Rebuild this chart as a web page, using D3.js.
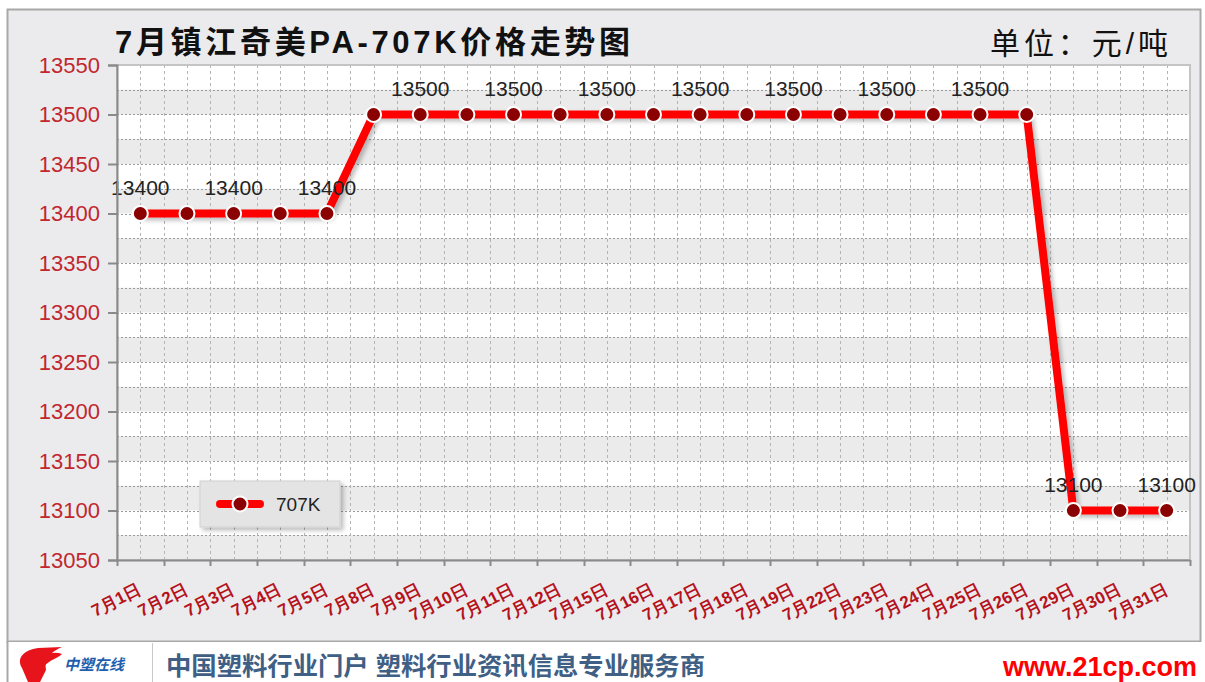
<!DOCTYPE html>
<html>
<head>
<meta charset="utf-8">
<script src="https://cdn.jsdelivr.net/npm/d3@7"></script>
<style>
  body { margin: 0; background: #fff; }
  svg { display: block; }
</style>
</head>
<body>
<script>
// data
const dates = ['7月1日', '7月2日', '7月3日', '7月4日', '7月5日', '7月8日', '7月9日', '7月10日',
  '7月11日', '7月12日', '7月15日', '7月16日', '7月17日', '7月18日', '7月19日', '7月22日',
  '7月23日', '7月24日', '7月25日', '7月26日', '7月29日', '7月30日', '7月31日']
const prices = [13400, 13400, 13400, 13400, 13400, 13500, 13500, 13500,
  13500, 13500, 13500, 13500, 13500, 13500, 13500, 13500,
  13500, 13500, 13500, 13500, 13100, 13100, 13100]
const yTicks = [13050, 13100, 13150, 13200, 13250, 13300, 13350, 13400, 13450, 13500, 13550]
const seriesName = '707K'

const w = 1205
const h = 682
const font = 'Arial, "Liberation Sans", "Noto Sans CJK SC", sans-serif'

const svg = d3.select('body').append('svg')
  .attr('width', w)
  .attr('height', h)
  .style('font-family', font)

const defs = svg.append('defs')
const shadow = defs.append('filter').attr('id', 'shadow')
  .attr('x', '-20%').attr('y', '-20%').attr('width', '140%').attr('height', '140%')
shadow.append('feDropShadow')
  .attr('dx', 3).attr('dy', 3).attr('stdDeviation', 2)
  .attr('flood-color', '#000').attr('flood-opacity', 0.25)

// outer panel
svg.append('rect')
  .attr('x', 7.5).attr('y', 9.5)
  .attr('width', 1193).attr('height', 632)
  .attr('fill', '#ebebed')
  .attr('stroke', '#a8a8a8')
  .attr('stroke-width', 2)

// footer
svg.append('rect')
  .attr('x', 7).attr('y', 642).attr('width', 1198).attr('height', 40)
  .attr('fill', '#fff')
svg.append('line')
  .attr('x1', 7.5).attr('x2', 7.5).attr('y1', 641).attr('y2', h)
  .attr('stroke', '#a8a8a8').attr('stroke-width', 2)
svg.append('line')
  .attr('x1', 152.5).attr('x2', 152.5).attr('y1', 643).attr('y2', h)
  .attr('stroke', '#c8c8c8').attr('stroke-width', 1)

// logo (approximate)
const logo = svg.append('g')
logo.append('path')
  .attr('d', 'M22,668 C16,658 24,650 38,648 L62,647 C50,652 44,660 46,670 L40,682 L28,682 Z')
  .attr('fill', '#e8141b')
logo.append('path')
  .attr('d', 'M34,662 C42,654 54,651 62,654 C58,658 50,660 44,666 Z')
  .attr('fill', '#e8141b')
logo.append('text')
  .attr('x', 64).attr('y', 670)
  .attr('font-size', 15).attr('font-weight', 'bold').attr('font-style', 'italic')
  .attr('fill', '#1f5fae')
  .text('中塑在线')

svg.append('text')
  .attr('x', 166).attr('y', 675)
  .attr('font-size', 25).attr('font-weight', 'bold')
  .attr('fill', '#3f5f84')
  .attr('textLength', 539)
  .attr('lengthAdjust', 'spacingAndGlyphs')
  .text('中国塑料行业门户 塑料行业资讯信息专业服务商')

svg.append('text')
  .attr('x', 1197).attr('y', 676)
  .attr('text-anchor', 'end')
  .attr('font-size', 27).attr('font-weight', 'bold')
  .attr('fill', '#ff0000')
  .text('www.21cp.com')

// title
svg.append('text')
  .attr('x', 115).attr('y', 53)
  .attr('font-size', 31).attr('font-weight', 'bold')
  .attr('fill', '#111')
  .attr('textLength', 515)
  .attr('lengthAdjust', 'spacing')
  .text('7月镇江奇美PA-707K价格走势图')

svg.append('text')
  .attr('x', 990).attr('y', 54)
  .attr('font-size', 30)
  .attr('fill', '#111')
  .attr('textLength', 178)
  .attr('lengthAdjust', 'spacing')
  .text('单位：元/吨')

// plot area
const m = { left: 117, right: 1190, top: 65, bottom: 560 }

const x = d3.scaleBand()
  .domain(dates)
  .range([m.left, m.right])

const y = d3.scaleLinear()
  .domain([13050, 13550])
  .range([m.bottom, m.top])

const plot = svg.append('g')

plot.append('rect')
  .attr('x', m.left).attr('y', m.top)
  .attr('width', m.right - m.left).attr('height', m.bottom - m.top)
  .attr('fill', '#fff')

// alternating bands every 25
const bands = d3.range(13050, 13550, 50)
plot.selectAll('.band')
  .data(bands)
  .enter().append('rect')
  .attr('class', 'band')
  .attr('x', m.left)
  .attr('width', m.right - m.left)
  .attr('y', d => y(d + 25))
  .attr('height', d => y(d) - y(d + 25))
  .attr('fill', '#ebebeb')

// horizontal grid lines every 25
const hGrid = d3.range(13075, 13550, 25)
plot.selectAll('.hgrid')
  .data(hGrid)
  .enter().append('line')
  .attr('class', 'hgrid')
  .attr('x1', m.left).attr('x2', m.right)
  .attr('y1', d => Math.round(y(d)) + 0.5)
  .attr('y2', d => Math.round(y(d)) + 0.5)
  .attr('stroke', '#9a9a9a')
  .attr('stroke-dasharray', '2,2')

// vertical grid lines at category centres and boundaries
const vGrid = []
dates.forEach((d, i) => {
  vGrid.push(x(d) + x.bandwidth() / 2)
  if (i > 0) vGrid.push(x(d))
})
plot.selectAll('.vgrid')
  .data(vGrid)
  .enter().append('line')
  .attr('class', 'vgrid')
  .attr('x1', d => Math.round(d) + 0.5).attr('x2', d => Math.round(d) + 0.5)
  .attr('y1', m.top).attr('y2', m.bottom)
  .attr('stroke', '#b4b4b4')
  .attr('stroke-dasharray', '3,3')

// plot border
plot.append('rect')
  .attr('x', m.left).attr('y', m.top)
  .attr('width', m.right - m.left).attr('height', m.bottom - m.top)
  .attr('fill', 'none')
  .attr('stroke', '#c4c4c4')
  .attr('stroke-width', 2)

// y axis
const yAxis = svg.append('g')
  .attr('transform', `translate(${m.left},0)`)
  .call(d3.axisLeft(y).tickValues(yTicks).tickSize(9).tickPadding(8).tickFormat(d3.format('d')))
yAxis.select('.domain').attr('stroke', '#8a8a8a').attr('stroke-width', 2)
yAxis.selectAll('.tick line').attr('stroke', '#8a8a8a').attr('stroke-width', 2)
yAxis.selectAll('.tick text')
  .attr('fill', '#c1272d')
  .attr('font-size', 22)
  .attr('font-family', font)

// x axis
const xAxis = svg.append('g')
  .attr('transform', `translate(0,${m.bottom})`)
  .call(d3.axisBottom(x).tickSize(0).tickFormat(''))
xAxis.select('.domain').attr('stroke', '#8a8a8a').attr('stroke-width', 2)

const boundaries = dates.map(d => x(d)).concat([m.right])
xAxis.selectAll('.xtick')
  .data(boundaries)
  .enter().append('line')
  .attr('class', 'xtick')
  .attr('x1', d => Math.round(d) + 0.5).attr('x2', d => Math.round(d) + 0.5)
  .attr('y1', 0).attr('y2', 6)
  .attr('stroke', '#8a8a8a').attr('stroke-width', 2)

xAxis.selectAll('.xlabel')
  .data(dates)
  .enter().append('text')
  .attr('class', 'xlabel')
  .attr('transform', d => `translate(${x(d) + x.bandwidth() / 2 + 2},${33}) rotate(-27)`)
  .attr('text-anchor', 'end')
  .attr('font-size', 17)
  .attr('font-weight', 'bold')
  .attr('fill', '#b5121b')
  .text(d => d)

// line
const points = dates.map((d, i) => ({ date: d, value: prices[i], i: i }))
const line = d3.line()
  .x(d => x(d.date) + x.bandwidth() / 2)
  .y(d => y(d.value))

plot.append('path')
  .datum(points)
  .attr('d', line)
  .attr('fill', 'none')
  .attr('stroke', '#ff0000')
  .attr('stroke-width', 8)
  .attr('stroke-linejoin', 'round')
  .attr('filter', 'url(#shadow)')

plot.selectAll('.dot')
  .data(points)
  .enter().append('circle')
  .attr('class', 'dot')
  .attr('cx', d => x(d.date) + x.bandwidth() / 2)
  .attr('cy', d => y(d.value))
  .attr('r', 7.5)
  .attr('fill', '#8b0000')
  .attr('stroke', '#fff')
  .attr('stroke-width', 2)

plot.selectAll('.vlabel')
  .data(points.filter(d => d.i % 2 === 0))
  .enter().append('text')
  .attr('class', 'vlabel')
  .attr('x', d => x(d.date) + x.bandwidth() / 2)
  .attr('y', d => y(d.value) - 19)
  .attr('text-anchor', 'middle')
  .attr('font-size', 21)
  .attr('fill', '#222')
  .text(d => d.value)

// legend
const legend = svg.append('g').attr('transform', 'translate(200,481)')
legend.append('rect')
  .attr('width', 140).attr('height', 46)
  .attr('fill', '#e4e4e4')
  .attr('stroke', '#d0d0d0')
  .attr('filter', 'url(#shadow)')
legend.append('line')
  .attr('x1', 20).attr('x2', 60).attr('y1', 23).attr('y2', 23)
  .attr('stroke', '#ff0000').attr('stroke-width', 8).attr('stroke-linecap', 'round')
legend.append('circle')
  .attr('cx', 40).attr('cy', 23).attr('r', 7.5)
  .attr('fill', '#8b0000').attr('stroke', '#fff').attr('stroke-width', 2)
legend.append('text')
  .attr('x', 76).attr('y', 30)
  .attr('font-size', 19)
  .attr('fill', '#222')
  .text(seriesName)
</script>
</body>
</html>
